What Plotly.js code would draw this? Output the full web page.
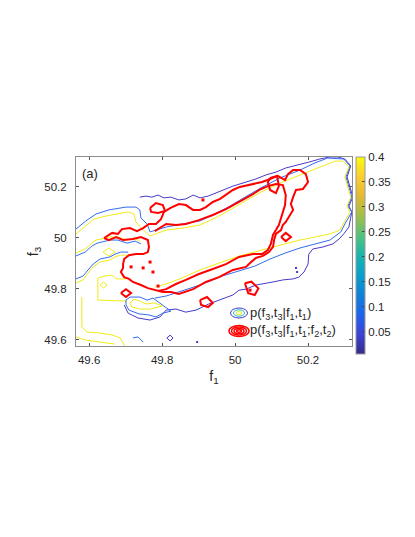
<!DOCTYPE html>
<html>
<head>
<meta charset="utf-8">
<script src="https://cdn.plot.ly/plotly-3.0.1.min.js"></script>
<style>
  html, body { margin: 0; padding: 0; background: #fff; }
  #chart { width: 415px; height: 537px; }
</style>
</head>
<body>
<div id="chart"></div>
<script>
// contour lines, in (f1, f3) units

// p(f3,t3|f1,t1) -- lowest level (purple)
var p1LowX = [49.739,49.756,49.772,49.789,49.805,49.824,49.846,49.865,49.885,49.904,49.926,49.948,49.972,49.994,50.030,50.057,50.085,50.112,50.139,50.175,50.202,50.232,50.260,50.282,50.301,50.317,50.307,50.315,50.323,50.312,50.320,50.312,50.298,50.285,50.268,50.241,50.213,50.202,50.200,50.189,50.175,50.159,50.131,50.104,50.076,50.057,50.030,50.011,49.994,49.956,49.928,49.893,49.865,49.838,49.811,49.794,49.767,49.734,49.707,49.696];
var p1LowY = [50.159,50.163,50.159,50.167,50.156,50.159,50.148,50.152,50.167,50.156,50.163,50.175,50.187,50.202,50.218,50.230,50.246,50.257,50.273,50.285,50.296,50.308,50.316,50.316,50.308,50.281,50.238,50.199,50.159,50.124,50.101,50.042,50.015,49.995,49.976,49.964,49.956,49.936,49.897,49.866,49.846,49.839,49.835,49.827,49.819,49.815,49.799,49.795,49.776,49.756,49.741,49.717,49.709,49.721,49.717,49.690,49.678,49.686,49.705,49.737];

// middle level (blue)
var p1MidX = [49.564,49.591,49.619,49.654,49.701,49.728,49.739,49.742,49.759,49.767,49.811,49.857,49.904,49.945,49.986,50.027,50.071,50.123,50.178,50.219,50.254,50.298,50.315,50.304,50.312,50.320,50.309,50.320,50.301,50.290,50.260,50.219,50.178,50.137,50.096,50.054,50.013,49.964,49.904,49.854,49.811,49.780];
var p1MidY = [50.034,50.066,50.093,50.109,50.120,50.120,50.109,50.077,50.054,50.023,50.042,50.054,50.066,50.093,50.124,50.159,50.195,50.234,50.265,50.293,50.312,50.308,50.281,50.238,50.199,50.159,50.124,50.101,50.054,50.023,49.991,49.976,49.960,49.940,49.917,49.889,49.870,49.850,49.815,49.792,49.772,49.764];

// top level (yellow)
var p1HighX = [49.564,49.589,49.613,49.646,49.679,49.707,49.723,49.728,49.745,49.767,49.811,49.857,49.904,49.945,49.986,50.027,50.071,50.123,50.178,50.232,50.274,50.296,50.312,50.301,50.309,50.317,50.307,50.315,50.298,50.287,50.260,50.219,50.178,50.137,50.096,50.054,50.013,49.964,49.904,49.854,49.811,49.780];
var p1HighY = [50.015,50.046,50.073,50.085,50.093,50.101,50.093,50.062,50.034,50.007,50.030,50.038,50.050,50.077,50.109,50.144,50.179,50.214,50.246,50.277,50.300,50.300,50.277,50.238,50.199,50.159,50.124,50.101,50.058,50.030,50.015,50.003,49.991,49.976,49.960,49.944,49.929,49.905,49.874,49.842,49.819,49.807];

// left-hand pieces
var p1LeftHighBX = [49.564,49.589,49.608,49.619,49.657,49.679,49.704,49.723,49.739];
var p1LeftHighBY = [49.940,49.956,49.979,49.991,50.003,50.003,49.991,49.999,49.987];
var p1LeftMidBX = [49.564,49.589,49.608,49.622,49.657,49.679,49.704,49.726,49.742];
var p1LeftMidBY = [49.929,49.944,49.968,49.979,49.991,49.991,49.979,49.987,49.976];
var p1LeftHighCX = [49.564,49.583,49.597,49.611,49.630,49.657,49.671,49.685,49.704];
var p1LeftHighCY = [49.823,49.835,49.862,49.886,49.905,49.913,49.925,49.932,49.932];
var p1LeftMidCX = [49.564,49.583,49.597,49.611,49.630,49.657,49.671,49.687,49.707];
var p1LeftMidCY = [49.839,49.850,49.874,49.897,49.917,49.925,49.936,49.944,49.944];
var p1BoxX = [49.701,49.676,49.663,49.641,49.624,49.624,49.704];
var p1BoxY = [49.839,49.839,49.854,49.850,49.842,49.756,49.752];
var p1BottomAX = [49.580,49.580,49.594,49.630,49.665,49.685,49.698];
var p1BottomAY = [49.768,49.651,49.631,49.627,49.619,49.608,49.576];
var p1BottomBX = [49.564,49.589,49.630,49.671];
var p1BottomBY = [49.612,49.600,49.592,49.584];
var p1Dia1X = [49.638,49.654,49.671,49.654,49.638];
var p1Dia1Y = [49.944,49.960,49.944,49.929,49.944];
var p1Dia2X = [49.630,49.639,49.649,49.639,49.630];
var p1Dia2Y = [49.815,49.827,49.815,49.803,49.815];
var p1BlobMidX = [49.701,49.712,49.739,49.759,49.775,49.794,49.811,49.824,49.802,49.783,49.764,49.737,49.709,49.701,49.701];
var p1BlobMidY = [49.756,49.768,49.768,49.756,49.764,49.745,49.725,49.713,49.705,49.690,49.698,49.702,49.717,49.737,49.756];
var p1BlobHighX = [49.712,49.723,49.739,49.756,49.780,49.800,49.767,49.739,49.717,49.712];
var p1BlobHighY = [49.745,49.760,49.752,49.741,49.745,49.733,49.721,49.721,49.729,49.745];
var p1Dia3X = [49.813,49.822,49.830,49.822,49.813];
var p1Dia3Y = [49.608,49.619,49.608,49.596,49.608];
var p1SquigX = [49.720,49.734,49.748];
var p1SquigY = [49.608,49.612,49.592];
var p1DotsX = [49.896,50.167,50.170];
var p1DotsY = [49.592,49.882,49.866];

// p(f3,t3|f1,t1;f2,t2) (red)
var p2OuterX = [49.641,49.663,49.679,49.690,49.712,49.731,49.748,49.764,49.783,49.797,49.805,49.822,49.846,49.865,49.885,49.904,49.920,49.939,49.959,49.975,49.994,50.013,50.049,50.074,50.096,50.117,50.137,50.145,50.159,50.178,50.194,50.200,50.186,50.167,50.159,50.153,50.159,50.148,50.139,50.131,50.126,50.112,50.107,50.104,50.093,50.076,50.057,50.041,50.030,49.994,49.956,49.920,49.885,49.846,49.824,49.802,49.783,49.761,49.742,49.720,49.709,49.696,49.687,49.693,49.693,49.696,49.709,49.728,49.748,49.761,49.764,49.761,49.742,49.720,49.693,49.674,49.654,49.641];
var p2OuterY = [49.999,50.019,50.015,50.034,50.038,50.026,50.038,50.054,50.054,50.073,50.101,50.116,50.132,50.128,50.109,50.109,50.120,50.140,50.152,50.167,50.187,50.199,50.210,50.218,50.230,50.242,50.226,50.249,50.265,50.265,50.249,50.218,50.191,50.187,50.159,50.132,50.109,50.081,50.062,50.050,50.030,50.015,49.991,49.964,49.944,49.929,49.921,49.901,49.886,49.874,49.846,49.827,49.799,49.780,49.788,49.788,49.795,49.803,49.815,49.827,49.839,49.846,49.866,49.882,49.897,49.917,49.932,49.936,49.936,49.944,49.964,49.991,50.003,49.995,49.991,50.003,49.991,49.999];
var p2InnerX = [49.780,49.811,49.838,49.865,49.901,49.939,49.975,50.011,50.049,50.071,50.090,50.112,50.131,50.139,50.137,50.126,50.120,50.112,50.104,50.098,50.090,50.074,50.049,50.011,49.975,49.939,49.901,49.865,49.838,49.811,49.789];
var p2InnerY = [50.026,50.054,50.050,50.054,50.069,50.089,50.112,50.140,50.171,50.191,50.202,50.210,50.206,50.167,50.128,50.077,50.050,50.030,50.011,49.976,49.952,49.936,49.936,49.925,49.897,49.878,49.858,49.835,49.819,49.799,49.792];
var p2Loop1X = [50.126,50.139,50.153,50.139,50.126];
var p2Loop1Y = [50.003,50.019,50.003,49.987,50.003];
var p2Loop2X = [49.687,49.701,49.715,49.701,49.687];
var p2Loop2Y = [49.784,49.799,49.784,49.768,49.784];
var p2Loop3X = [50.027,50.045,50.064,50.054,50.036,50.027];
var p2Loop3Y = [49.822,49.828,49.802,49.776,49.783,49.822];
var p2Loop4X = [49.904,49.923,49.939,49.926,49.907,49.904];
var p2Loop4Y = [49.756,49.768,49.745,49.729,49.737,49.756];
var p2Loop5X = [50.096,50.115,50.120,50.112,50.096,50.090,50.096];
var p2Loop5Y = [50.234,50.242,50.202,50.175,50.187,50.218,50.234];
var p2Loop6X = [49.767,49.783,49.802,49.808,49.789,49.770,49.767];
var p2Loop6Y = [50.116,50.136,50.128,50.105,50.097,50.101,50.116];
var p2DotsX = [49.715,49.748,49.767,49.775,49.789,49.912,50.041];
var p2DotsY = [49.886,49.882,49.905,49.866,49.811,50.148,49.795];

// colour bar
var cbTicks = [0.05,0.1,0.15,0.2,0.25,0.3,0.35,0.4];
var cbMin = 0.005, cbMax = 0.4;

var parula = [
  [0.000,'rgb(53,42,135)'],[0.100,'rgb(62,65,215)'],[0.200,'rgb(30,100,237)'],
  [0.300,'rgb(16,129,216)'],[0.400,'rgb(8,160,204)'],[0.500,'rgb(26,181,172)'],
  [0.600,'rgb(80,194,126)'],[0.700,'rgb(159,191,72)'],[0.800,'rgb(226,185,50)'],
  [0.900,'rgb(252,206,46)'],[1.000,'rgb(249,251,14)']
];

var PURPLE = 'rgb(70,58,200)', BLUE = 'rgb(52,108,238)', YELLOW = 'rgb(240,236,22)', RED = 'rgb(255,0,0)';

function ln(x, y, color, w) {
  return {type:'scatter', mode:'lines', x:x, y:y, line:{color:color, width:w},
          hoverinfo:'skip', showlegend:false};
}
function dots(x, y, color, s) {
  return {type:'scatter', mode:'markers', x:x, y:y, marker:{color:color, size:s, symbol:'square'},
          hoverinfo:'skip', showlegend:false};
}

var data = [
  ln(p1LowX, p1LowY, PURPLE, 1),
  ln(p1MidX, p1MidY, BLUE, 1),
  ln(p1HighX, p1HighY, YELLOW, 1),
  ln(p1LeftMidBX, p1LeftMidBY, BLUE, 1),
  ln(p1LeftHighBX, p1LeftHighBY, YELLOW, 1),
  ln(p1LeftMidCX, p1LeftMidCY, BLUE, 1),
  ln(p1LeftHighCX, p1LeftHighCY, YELLOW, 1),
  ln(p1BoxX, p1BoxY, YELLOW, 1),
  ln(p1BottomAX, p1BottomAY, YELLOW, 1),
  ln(p1BottomBX, p1BottomBY, YELLOW, 1),
  ln(p1Dia1X, p1Dia1Y, YELLOW, 1),
  ln(p1Dia2X, p1Dia2Y, YELLOW, 1),
  ln(p1BlobMidX, p1BlobMidY, BLUE, 1),
  ln(p1BlobHighX, p1BlobHighY, YELLOW, 1),
  ln(p1Dia3X, p1Dia3Y, PURPLE, 1),
  ln(p1SquigX, p1SquigY, BLUE, 1),
  dots(p1DotsX, p1DotsY, PURPLE, 2),
  ln(p2OuterX, p2OuterY, RED, 2),
  ln(p2InnerX, p2InnerY, RED, 2),
  ln(p2Loop1X, p2Loop1Y, RED, 2),
  ln(p2Loop2X, p2Loop2Y, RED, 2),
  ln(p2Loop3X, p2Loop3Y, RED, 2),
  ln(p2Loop4X, p2Loop4Y, RED, 2),
  ln(p2Loop5X, p2Loop5Y, RED, 2),
  ln(p2Loop6X, p2Loop6Y, RED, 2),
  dots(p2DotsX, p2DotsY, RED, 3),
  // carries the colour bar only
  {type:'scatter', mode:'markers', x:[null], y:[null], hoverinfo:'skip', showlegend:false,
   marker:{color:[cbMin], cmin:cbMin, cmax:cbMax, colorscale:parula, showscale:true,
     colorbar:{thickness:9, len:197, lenmode:'pixels', x:1.0145, xanchor:'left', xpad:0,
       y:1, yanchor:'top', ypad:0, tickvals:cbTicks, ticks:'inside', ticklen:3,
       tickcolor:'#444', outlinewidth:1, outlinecolor:'#999',
       tickfont:{family:'Liberation Sans, Arial, sans-serif', size:11.5, color:'#262626'}}}}
];

var FONT = 'Liberation Sans, Arial, sans-serif';
var axisBase = {showgrid:false, zeroline:false, showline:true, linecolor:'#8c8c8c', linewidth:1,
  mirror:'ticks', ticks:'inside', ticklen:3, tickcolor:'#555',
  tickfont:{family:FONT, size:11.5, color:'#262626'}};

// legend icons: concentric ellipses
var shapes = [];
function ellipses(cy, colors, radii, w) {
  for (var i = 0; i < radii.length; i++) {
    shapes.push({type:'circle', xref:'paper', yref:'paper', xsizemode:'pixel', ysizemode:'pixel',
      xanchor:0.5906, yanchor:cy, x0:-radii[i][0], x1:radii[i][0], y0:-radii[i][1], y1:radii[i][1],
      line:{color:colors[i], width:w}});
  }
}
ellipses(0.1746, [PURPLE,'rgb(30,190,200)',YELLOW], [[8.5,5],[5.5,3.2],[2.8,1.5]], 1);
ellipses(0.0794, [RED,RED,RED,RED], [[10,5.5],[7.5,4],[5,2.6],[2.5,1.2]], 1.5);

var layout = {
  width:415, height:537,
  margin:{l:76, r:63, t:157, b:191, pad:0},
  paper_bgcolor:'#fff', plot_bgcolor:'#fff',
  font:{family:FONT, color:'#262626'},
  showlegend:false,
  xaxis:Object.assign({}, axisBase, {range:[49.564,50.3205], tickvals:[49.6,49.8,50,50.2],
    ticktext:['49.6','49.8','50','50.2'], ticklabelstandoff:3,
    title:{text:'f<sub>1</sub>', font:{family:FONT, size:14, color:'#262626'}, standoff:6}}),
  yaxis:Object.assign({}, axisBase, {range:[49.5765,50.316], tickvals:[49.6,49.8,50,50.2],
    ticktext:['49.6','49.8','50','50.2'], ticklabelstandoff:6,
    title:{text:'f<sub>3</sub>', font:{family:FONT, size:14, color:'#262626'}, standoff:2}}),
  shapes:shapes,
  annotations:[
    {xref:'paper', yref:'paper', x:0.0145, y:0.915, xanchor:'left', yanchor:'middle', showarrow:false,
     text:'(a)', font:{family:FONT, size:13, color:'#262626'}},
    {xref:'paper', yref:'paper', x:0.6232, y:0.1746, xanchor:'left', yanchor:'middle', showarrow:false,
     text:'p(f<sub>3</sub>,t<sub>3</sub>|f<sub>1</sub>,t<sub>1</sub>)', font:{family:FONT, size:13, color:'#262626'}},
    {xref:'paper', yref:'paper', x:0.6232, y:0.0794, xanchor:'left', yanchor:'middle', showarrow:false,
     text:'p(f<sub>3</sub>,t<sub>3</sub>|f<sub>1</sub>,t<sub>1</sub>;f<sub>2</sub>,t<sub>2</sub>)', font:{family:FONT, size:13, color:'#262626'}}
  ]
};

Plotly.newPlot('chart', data, layout, {displayModeBar:false, staticPlot:true});
</script>
</body>
</html>
